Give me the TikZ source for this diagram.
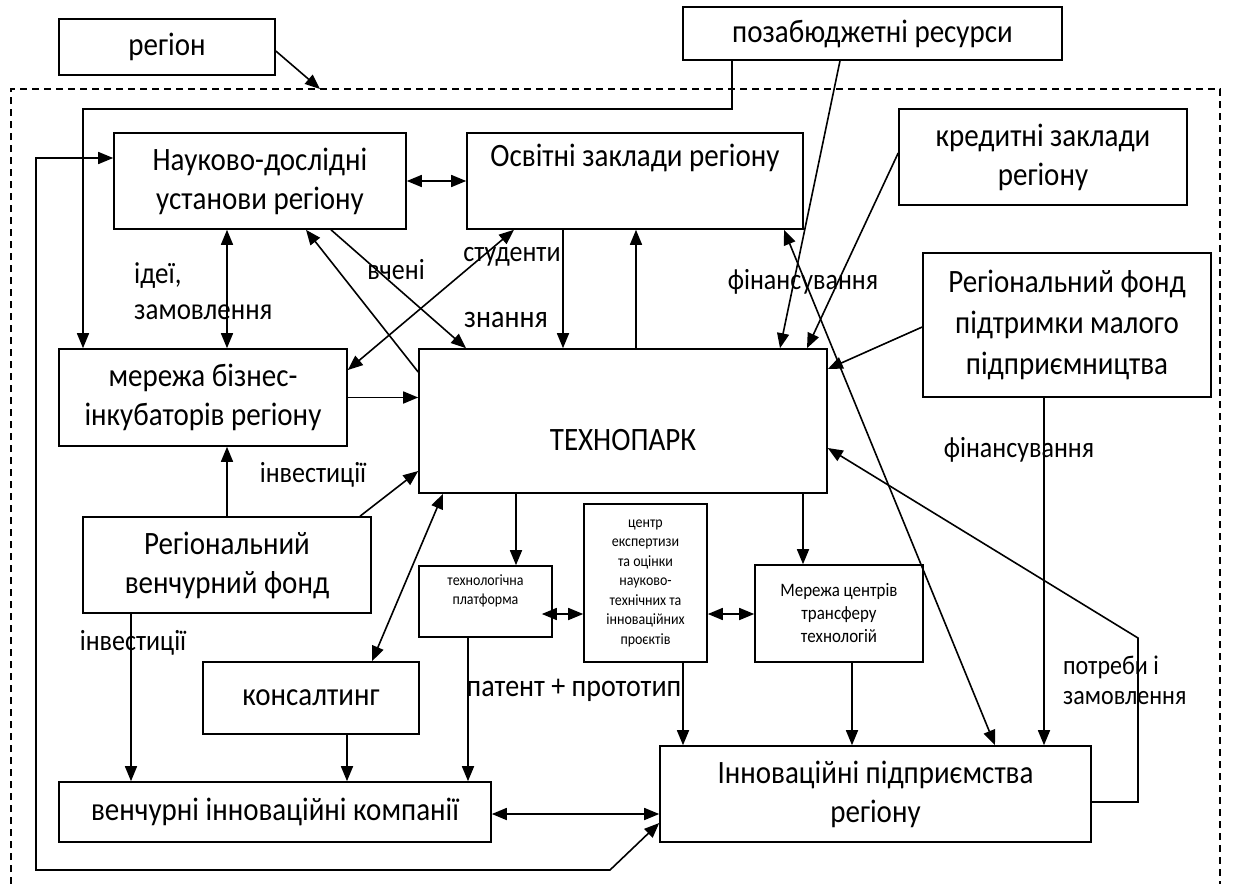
\documentclass[tikz,border=0pt]{standalone}
\usepackage{fontspec}
\setmainfont{Carlito}[FakeStretch=0.89]
\usetikzlibrary{arrows.meta}
\begin{document}
\begin{tikzpicture}[x=1pt,y=-1pt,
  box/.style={draw, line width=1.6pt, inner sep=0pt, align=center,
    font=\fontsize{32.6}{39}\selectfont},
  midbox/.style={box, font=\fontsize{19}{23}\selectfont},
  smallbox/.style={box, font=\fontsize{15.7}{19.5}\selectfont},
  lbl/.style={inner sep=0pt, font=\fontsize{29.2}{34}\selectfont},
  ln/.style={line width=1.6pt},
  arr/.style={ln, -{Triangle[length=15pt,width=12pt]}},
  barr/.style={ln, {Triangle[length=15pt,width=12pt]}-{Triangle[length=15pt,width=12pt]}}]
\useasboundingbox (0,0) rectangle (1235,884);

% region border
\draw[line width=1.2pt, dash pattern=on 7pt off 5pt] (11,884) -- (11,89) -- (1220,89) -- (1220,884);
\coordinate (regin) at (320,89);

% boxes
\node[box, minimum width=216pt, minimum height=56pt] (reg) at (167,47) {регіон};
\node[box, minimum width=379pt, minimum height=53pt] (pozab) at (872.5,33.5) {позабюджетні ресурси};
\node[box, minimum width=292pt, minimum height=96pt] (nauk) at (260,181) {Науково-дослідні\\установи регіону};
\node[box, minimum width=336pt, minimum height=96pt] (osvit) at (635,181) {Освітні заклади регіону\\\strut};
\node[box, minimum width=288pt, minimum height=96pt] (kred) at (1043,157) {кредитні заклади\\регіону};
\node[box, minimum width=288pt, minimum height=144pt, font=\fontsize{32.6}{41}\selectfont] (fond) at (1067,325) {Регіональний фонд\\підтримки малого\\підприємництва};
\node[box, minimum width=288pt, minimum height=97pt] (merezha) at (203,397.5) {мережа бізнес-\\інкубаторів регіону};
\node[box, minimum width=408pt, minimum height=144pt] (tech) at (623,421) {};
\node[inner sep=0pt, font=\fontsize{32.6}{39}\selectfont] (techtxt) at (623,440) {ТЕХНОПАРК};
\node[box, minimum width=288pt, minimum height=96pt] (venfond) at (227,565) {Регіональний\\венчурний фонд};
\node[smallbox, minimum width=133pt, minimum height=71pt] (platf) at (485.5,601.5) {технологічна\\платформа\\[4pt]};
\node[smallbox, minimum width=123pt, minimum height=158pt] (centr) at (645.5,583) {центр\\експертизи\\та оцінки\\науково-\\технічних та\\інноваційних\\проєктів};
\node[midbox, minimum width=168pt, minimum height=97pt] (mtrans) at (839,613.5) {Мережа центрів\\трансферу\\технологій};
\node[box, minimum width=216pt, minimum height=72pt] (konsal) at (311,698) {консалтинг};
\node[box, minimum width=432pt, minimum height=60pt] (venkomp) at (275,812) {венчурні інноваційні компанії};
\node[box, minimum width=431pt, minimum height=96pt] (innov) at (875.5,794) {Інноваційні підприємства\\регіону};

% connectors
\draw[arr] (reg.east |- 0,51) -- (regin);
\draw[arr] (732,0 |- pozab.south) -- (732,109) -- (83,109) -- (83,0 |- merezha.north);
\draw[barr] (nauk.west |- 0,158) -- (36,158) -- (36,870) -- (610,870) -- (innov.west |- 0,823);
\draw[barr] (nauk.east) -- (osvit.west);
\draw[barr] (227,0 |- nauk.south) -- (227,0 |- merezha.north);
\draw[arr] (tech.west |- 0,372) -- (306,0 |- nauk.south);
\draw[arr] (331,0 |- nauk.south) -- (466,0 |- tech.north);
\draw[barr] (merezha.east |- 0,370) -- (514,0 |- osvit.south);
\draw[arr] (563,0 |- osvit.south) -- (563,0 |- tech.north);
\draw[arr] (636,0 |- tech.north) -- (636,0 |- osvit.south);
\draw[arr] (840,0 |- pozab.south) -- (780,0 |- tech.north);
\draw[arr] (kred.west |- 0,153) -- (807,0 |- tech.north);
\draw[barr] (784,0 |- osvit.south) -- (995,0 |- innov.north);
\draw[arr] (fond.west |- 0,327) -- (tech.east |- 0,369);
\draw[arr] (1044,0 |- fond.south) -- (1044,0 |- innov.north);
\draw[arr] (innov.east |- 0,802) -- (1138,802) -- (1138,638) -- (tech.east |- 0,448);
\draw[arr] (merezha.east) -- (tech.west |- merezha.east);
\draw[arr] (227,0 |- venfond.north) -- (227,0 |- merezha.south);
\draw[arr] (360,0 |- venfond.north) -- (tech.west |- 0,471);
\draw[barr] (372,0 |- konsal.north) -- (443,0 |- tech.south);
\draw[arr] (516,0 |- tech.south) -- (516,0 |- platf.north);
\draw[arr] (803,0 |- tech.south) -- (803,0 |- mtrans.north);
\draw[barr] ([xshift=-11pt]platf.east |- 0,614) -- (centr.west |- 0,614);
\draw[barr] (centr.east |- 0,614) -- (mtrans.west |- 0,614);
\draw[arr] (468,0 |- platf.south) -- (468,0 |- venkomp.north);
\draw[arr] (683,0 |- centr.south) -- (683,0 |- innov.north);
\draw[arr] (852,0 |- mtrans.south) -- (852,0 |- innov.north);
\draw[arr] (131,0 |- venfond.south) -- (131,0 |- venkomp.north);
\draw[arr] (347,0 |- konsal.south) -- (347,0 |- venkomp.north);
\draw[barr] (venkomp.east |- 0,814) -- (innov.west |- 0,814);

% connector labels
\node[lbl, anchor=west, align=left, font=\fontsize{30.3}{36}\selectfont] (lidei) at (134,291) {ідеї,\\замовлення};
\node[lbl] (lvcheni) at (396,270) {вчені};
\node[lbl] (lstud) at (512,257) {студенти};
\node[lbl, font=\fontsize{31.5}{34}\selectfont] (lznan) at (506,320) {знання};
\node[lbl] (lfin1) at (803,282) {фінансування};
\node[lbl] (lfin2) at (1019,450) {фінансування};
\node[lbl] (linv1) at (313,475) {інвестиції};
\node[lbl] (linv2) at (133,643) {інвестиції};
\node[lbl, font=\fontsize{31.5}{34}\selectfont] (lpat) at (574,690) {патент + прототип};
\node[lbl, anchor=west, align=left, font=\fontsize{27}{30}\selectfont] (lpotr) at (1063,680) {потреби і\\замовлення};
\end{tikzpicture}
\end{document}
